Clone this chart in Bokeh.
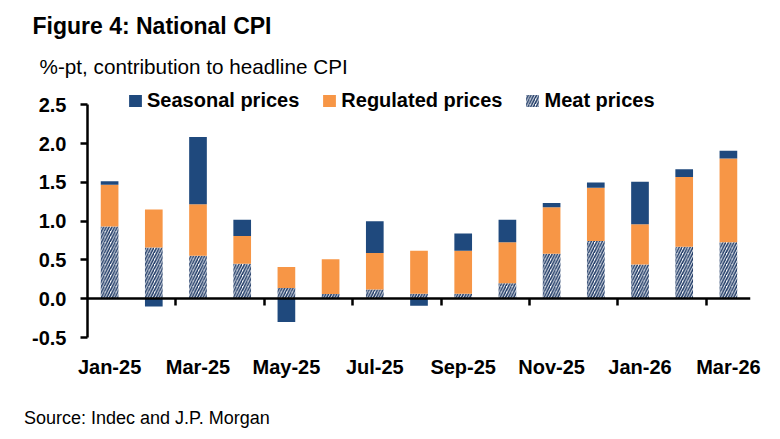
import numpy as np
from bokeh.plotting import figure
from bokeh.layouts import column
from bokeh.models import (Range1d, LinearAxis, FixedTicker, Legend, LegendItem,
                          Title, ColumnDataSource, NumeralTickFormatter)
from bokeh.embed import file_html
from bokeh.resources import INLINE

months = ["Jan-25", "Feb-25", "Mar-25", "Apr-25", "May-25", "Jun-25", "Jul-25", "Aug-25",
          "Sep-25", "Oct-25", "Nov-25", "Dec-25", "Jan-26", "Feb-26", "Mar-26"]
meat = [0.93, 0.66, 0.555, 0.45, 0.14, 0.06, 0.12, 0.065, 0.065, 0.20, 0.58, 0.745, 0.44, 0.67, 0.73]
regulated = [0.54, 0.49, 0.665, 0.36, 0.27, 0.45, 0.47, 0.555, 0.555, 0.53, 0.60, 0.685, 0.52, 0.90, 1.08]
seasonal = [0.045, -0.10, 0.865, 0.21, -0.30, 0.0, 0.41, -0.09, 0.22, 0.29, 0.054, 0.07, 0.55, 0.10, 0.10]
y_ticks = [-0.5, 0.0, 0.5, 1.0, 1.5, 2.0, 2.5]

FONT = "Liberation Sans"
NAVY = "#1F497D"
ORANGE = "#F79646"
HATCH = "#1F3A66"

x = np.arange(len(months), dtype=float)

# stack: positives upward from 0, negatives downward from 0
pos = np.zeros(len(months))
neg = np.zeros(len(months))
stacks = {}
for name, vals in [("meat", meat), ("regulated", regulated), ("seasonal", seasonal)]:
    v = np.asarray(vals, dtype=float)
    bottom = np.where(v >= 0, pos, neg)
    top = bottom + v
    pos = np.where(v >= 0, top, pos)
    neg = np.where(v < 0, top, neg)
    stacks[name] = ColumnDataSource(dict(x=x, bottom=bottom, top=top))

p = figure(width=780, height=389, output_backend="svg", toolbar_location=None,
           x_range=Range1d(-0.5, len(months) - 0.5), y_range=Range1d(-0.5, 2.75),
           x_axis_type=None, y_axis_type=None, title="",
           min_border_left=87, min_border_right=30, min_border_top=85, min_border_bottom=52)
p.outline_line_color = None
p.grid.visible = False
p.background_fill_color = "white"

W = 0.4
r_meat = p.vbar(x="x", bottom="bottom", top="top", width=W, source=stacks["meat"],
                fill_color="white", line_color=None, hatch_pattern="/",
                hatch_color=HATCH, hatch_scale=5.5, hatch_weight=1.6)
r_reg = p.vbar(x="x", bottom="bottom", top="top", width=W, source=stacks["regulated"],
               fill_color=ORANGE, line_color=None)
r_seas = p.vbar(x="x", bottom="bottom", top="top", width=W, source=stacks["seasonal"],
                fill_color=NAVY, line_color=None)

# y axis
ya = LinearAxis(ticker=FixedTicker(ticks=y_ticks), bounds=(-0.5, 2.5),
                formatter=NumeralTickFormatter(format="0.0"))
ya.axis_line_width = 2.5
ya.axis_line_color = "black"
ya.major_tick_line_width = 2.5
ya.major_tick_out = 7
ya.major_tick_in = 0
ya.minor_tick_line_color = None
ya.major_label_text_font = FONT
ya.major_label_text_font_style = "bold"
ya.major_label_text_font_size = "20px"
ya.major_label_text_color = "black"
ya.major_label_standoff = 14
p.add_layout(ya, "left")

# zero line axis with ticks between month pairs
xa0 = LinearAxis(fixed_location=0, ticker=FixedTicker(ticks=list(x[1:-1:2] + 0.5)))
xa0.axis_line_width = 2.5
xa0.axis_line_color = "black"
xa0.major_tick_line_width = 2.5
xa0.major_tick_out = 7
xa0.major_tick_in = 0
xa0.minor_tick_line_color = None
xa0.major_label_text_alpha = 0
xa0.major_label_text_font_size = "1px"
p.add_layout(xa0, "below")

# month labels at bottom
label_pos = list(x[::2])
xa = LinearAxis(ticker=FixedTicker(ticks=label_pos),
                major_label_overrides={float(i): months[int(i)] for i in label_pos})
xa.axis_line_color = None
xa.major_tick_line_color = None
xa.minor_tick_line_color = None
xa.major_label_text_font = FONT
xa.major_label_text_font_style = "bold"
xa.major_label_text_font_size = "20px"
xa.major_label_text_color = "black"
xa.major_label_standoff = 12
p.add_layout(xa, "below")

legend = Legend(items=[LegendItem(label="Seasonal prices", renderers=[r_seas]),
                       LegendItem(label="Regulated prices", renderers=[r_reg]),
                       LegendItem(label="Meat prices", renderers=[r_meat])],
                orientation="horizontal", location=(40, 225),
                glyph_width=16, glyph_height=15, label_standoff=4, spacing=22,
                padding=0, margin=0, border_line_color=None, background_fill_alpha=0,
                label_text_font=FONT, label_text_font_style="bold",
                label_text_font_size="20px", label_text_color="black")
p.add_layout(legend)

sub = Title(text="%-pt, contribution to headline CPI", align="left", offset=-48,
            text_font=FONT, text_font_style="normal", text_font_size="20.7px",
            text_color="black", standoff=16)
p.add_layout(sub, "above")
ttl = Title(text="Figure 4: National CPI", align="left", offset=-55,
            text_font=FONT, text_font_style="bold", text_font_size="23px",
            text_color="black", standoff=12)
p.add_layout(ttl, "above")

# source note in a thin strip below the chart
p2 = figure(width=780, height=50, output_backend="svg", toolbar_location=None,
            x_range=Range1d(0, 1), y_range=Range1d(0, 1),
            x_axis_type=None, y_axis_type=None, title="",
            min_border_left=87, min_border_right=30, min_border_top=38, min_border_bottom=0)
p2.outline_line_color = None
p2.grid.visible = False
src = Title(text="Source: Indec and J.P. Morgan", align="left", offset=-63.5,
            text_font=FONT, text_font_style="normal", text_font_size="18px",
            text_color="black", standoff=0)
p2.add_layout(src, "above")

layout = column(p, p2, spacing=0)
open("out.html", "w").write(file_html(layout, INLINE))
